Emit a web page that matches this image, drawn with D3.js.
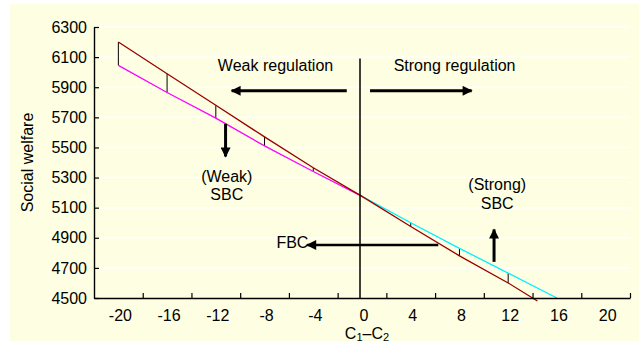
<!DOCTYPE html>
<html><head><meta charset="utf-8">
<script src="https://cdn.jsdelivr.net/npm/d3@7/dist/d3.min.js"></script>
<style>
html,body{margin:0;padding:0;background:#fff;}
svg{display:block;font-family:"Liberation Sans",Arial,sans-serif;}
</style></head>
<body><svg id="c" width="639" height="344"></svg>
<script>
// ---- data ----
const brownX = [-20,-16,-12,-8,-4,0,4,8,12,14.4];
const brownY = [6200,5990,5780,5570,5365,5175,4975,4780,4600,4480];
const pinkX  = [-20,-16,-12,-8,-4,0];
const pinkY  = [6045,5865,5695,5510,5340,5175];
const cyanX  = [0,4,8,12,16];
const cyanY  = [5175,5000,4830,4665,4500];
const xTickMarks  = [-18,-14,-10,-6,-2,2,6,10,14,18,22];
const xTickLabels = [-20,-16,-12,-8,-4,0,4,8,12,16,20];
const yTicks = [4500,4700,4900,5100,5300,5500,5700,5900,6100,6300];

const FS = "16px";
const svg = d3.select("#c");
svg.append("rect").attr("x",10).attr("y",4).attr("width",629).attr("height",337).attr("fill","#fefee2");

const x = d3.scaleLinear().domain([-22,22]).range([94,630]);
const y = d3.scaleLinear().domain([4500,6300]).range([298,27]);

// gridlines
svg.append("g").selectAll("line").data(yTicks.slice(1)).join("line")
  .attr("x1",x(-22)).attr("x2",x(22)).attr("y1",d=>y(d)).attr("y2",d=>y(d))
  .attr("stroke","#ffffff").attr("stroke-width",1.5);

// connector segments
const segs = [];
pinkX.forEach((v,i)=>{ if(v<0) segs.push([v, brownY[brownX.indexOf(v)], pinkY[i]]); });
cyanX.forEach((v,i)=>{ const j=brownX.indexOf(v); if(v>0 && v<16 && j>=0) segs.push([v, brownY[j], cyanY[i]]); });
svg.append("g").selectAll("line").data(segs).join("line")
  .attr("x1",d=>x(d[0])).attr("x2",d=>x(d[0])).attr("y1",d=>y(d[1])).attr("y2",d=>y(d[2]))
  .attr("stroke","#000").attr("stroke-width",1);

const line = d3.line().x(d=>x(d[0])).y(d=>y(d[1]));
svg.append("path").datum(pinkX.map((v,i)=>[v,pinkY[i]])).attr("d",line)
  .attr("fill","none").attr("stroke","#ff00ff").attr("stroke-width",1.3);
svg.append("path").datum(cyanX.map((v,i)=>[v,cyanY[i]])).attr("d",line)
  .attr("fill","none").attr("stroke","#00f0ff").attr("stroke-width",1.3);
svg.append("path").datum(brownX.map((v,i)=>[v,brownY[i]])).attr("d",line)
  .attr("fill","none").attr("stroke","#990000").attr("stroke-width",1.3);

// vertical line at 0
svg.append("line").attr("x1",x(0)-2).attr("x2",x(0)-2).attr("y1",y(6090)).attr("y2",y(4500))
  .attr("stroke","#000").attr("stroke-width",1.5);

// axes
const fmt = d => String(d); // plain hyphen-minus, no thousands separator
const gy = svg.append("g").attr("transform",`translate(${x(-22)},0)`)
  .call(d3.axisLeft(y).tickValues(yTicks).tickFormat(fmt).tickSizeInner(-5).tickSizeOuter(0).tickPadding(7));
const gx = svg.append("g").attr("transform",`translate(0,${y(4500)})`)
  .call(d3.axisBottom(x).tickValues(xTickMarks).tickFormat("").tickSizeInner(-5).tickSizeOuter(0));
const gxl = svg.append("g").attr("transform",`translate(1.5,${y(4500)})`)
  .call(d3.axisBottom(x).tickValues(xTickLabels).tickFormat(fmt).tickSize(0).tickPadding(12));
gxl.select(".domain").remove();
[gy,gx,gxl].forEach(g=>{
  g.selectAll(".domain").attr("stroke","#000").attr("stroke-width",1.4);
  g.selectAll(".tick line").attr("stroke","#000").attr("stroke-width",1.2);
  g.selectAll("text").attr("font-size",FS).attr("fill","#000").attr("font-family","Liberation Sans, Arial, sans-serif");
});

// axis titles
svg.append("text").attr("transform",`translate(33,${(y(4500)+y(6300))/2}) rotate(-90)`)
  .attr("text-anchor","middle").attr("font-size",FS).text("Social welfare");
const xt = svg.append("text").attr("x",x(0)+5).attr("y",339).attr("text-anchor","middle").attr("font-size",FS);
xt.append("tspan").text("C");
xt.append("tspan").attr("font-size","11px").attr("dy","2").text("1");
xt.append("tspan").attr("dy","-2").text("–C");
xt.append("tspan").attr("font-size","11px").attr("dy","2").text("2");

// arrow marker
const defs = svg.append("defs");
defs.append("marker").attr("id","ah").attr("markerUnits","userSpaceOnUse")
  .attr("viewBox","0 0 10 10").attr("refX",9).attr("refY",5)
  .attr("markerWidth",11).attr("markerHeight",10).attr("orient","auto")
  .append("path").attr("d","M0,0 L10,5 L0,10 Z").attr("fill","#000");

function arrow(x1,y1,x2,y2,w){
  svg.append("line").attr("x1",x(x1)).attr("y1",y(y1)).attr("x2",x(x2)).attr("y2",y(y2))
    .attr("stroke","#000").attr("stroke-width",w).attr("marker-end","url(#ah)");
}
arrow(-1.25,5876,-10.7,5876,3);
arrow(0.66,5876,9.0,5876,3);
arrow(-11.2,5657,-11.2,5440,3);
arrow(10.84,4740,10.84,4955,3);
arrow(6.26,4852,-4.5,4852,2.6);

function label(t,vx,vy,anchor){
  svg.append("text").attr("x",x(vx)).attr("y",y(vy)).attr("text-anchor",anchor||"middle")
    .attr("font-size",FS).attr("fill","#000").text(t);
}
label("Weak regulation",-7.1,6010);
label("Strong regulation",7.6,6010);
label("(Weak)",-11.1,5270);
label("SBC",-11.1,5148);
label("(Strong)",11.1,5217);
label("SBC",11.1,5091);
label("FBC",-4.4,4832,"end");
</script></body></html>
